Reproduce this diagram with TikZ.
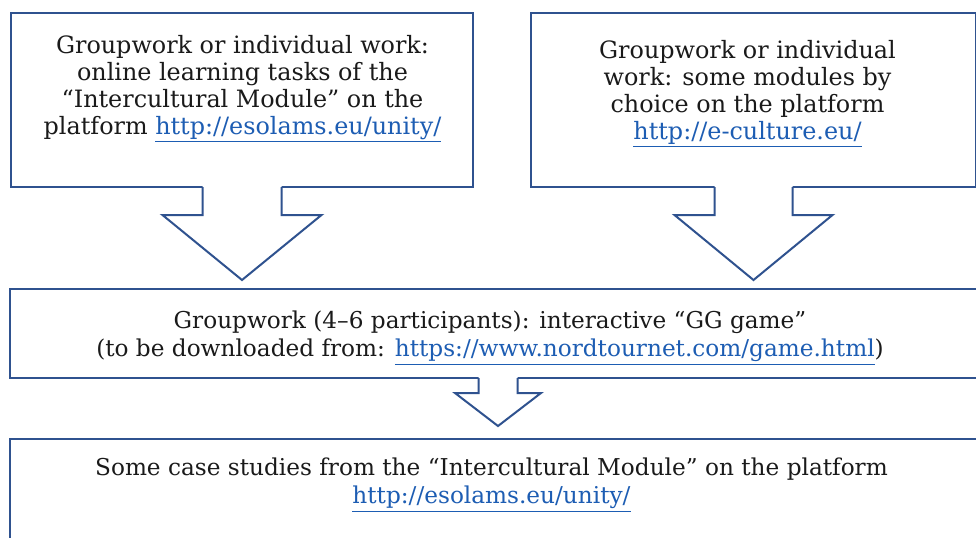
\documentclass[tikz,border=0pt]{standalone}
\usepackage{fontspec}
\setmainfont{DejaVu Serif}
\usetikzlibrary{calc,fit}
\definecolor{boxblue}{HTML}{2F528F}
\definecolor{linkblue}{HTML}{1D5DB3}
\definecolor{textblack}{HTML}{1A1A1A}
\newcommand{\lnk}[1]{\textcolor{linkblue}{\underline{#1}}}
% #1 from node, #2 to node, #3 shaft half width, #4 wing half width, #5 shaft length, #6 gap before target
\newcommand{\blockarrow}[6]{%
  \coordinate (tip-#1) at ($(#1.south |- #2.north)+(0,-#6)$);
  \fill[white] ($(#1.south)+(-#3,-2)$) -- ($(#1.south)+(-#3,#5)$) -- ($(#1.south)+(-#4,#5)$)
    -- (tip-#1) -- ($(#1.south)+(#4,#5)$) -- ($(#1.south)+(#3,#5)$) -- ($(#1.south)+(#3,-2)$) -- cycle;
  \draw[arrowline] ($(#1.south)+(-#3,-0.9)$) -- ($(#1.south)+(-#3,#5)$) -- ($(#1.south)+(-#4,#5)$)
    -- (tip-#1) -- ($(#1.south)+(#4,#5)$) -- ($(#1.south)+(#3,#5)$) -- ($(#1.south)+(#3,-0.9)$);
}
\begin{document}
\begin{tikzpicture}[x=0.75pt,y=-0.75pt,
  box/.style={draw=boxblue, line width=1.5pt, inner sep=0pt, rectangle},
  arrowline/.style={draw=boxblue, line width=1.5pt, line join=miter},
  toptxt/.style={align=center, inner sep=0pt, text=textblack, font=\fontsize{17.9}{20.2}\selectfont},
  widetxt/.style={align=center, inner sep=0pt, text=textblack, font=\fontsize{17.4}{21}\selectfont},
  ]
\useasboundingbox (0,0) rectangle (976,537);
\clip (0,0) rectangle (976,537);
\fill[white] (0,0) rectangle (976,537);

\node[box, fit={(11,12.5) (473,187)}] (tl) {};
\node[box, fit={(531,12.5) (976,187)}] (tr) {};
\node[box, fit={(10,289) (986,378)}] (mid) {};
\node[box, fit={(10,439) (986,560)}] (bot) {};

\blockarrow{tl}{mid}{39.5}{79.5}{27}{8}
\blockarrow{tr}{mid}{39}{79}{27}{8}
\blockarrow{mid}{bot}{19.5}{43}{14}{12}

\node[toptxt] (tltext) at (242.5,89) {Groupwork or individual work:\\
online learning tasks of the\\
“Intercultural Module” on the\\
platform \lnk{http://esolams.eu/unity/}};

\node[toptxt] (trtext) at (747.5,94) {Groupwork or individual\\
work: some modules by\\
choice on the platform\\
\lnk{http://e-culture.eu/}};

\node[widetxt] (midtext) at (490,338) {Groupwork (4–6 participants): interactive “GG game”\\
(to be downloaded from: \lnk{https://www.nordtournet.com/game.html})};

\node[widetxt] (bottext) at (491.5,485) {Some case studies from the “Intercultural Module” on the platform\\
\lnk{http://esolams.eu/unity/}};
\end{tikzpicture}
\end{document}
